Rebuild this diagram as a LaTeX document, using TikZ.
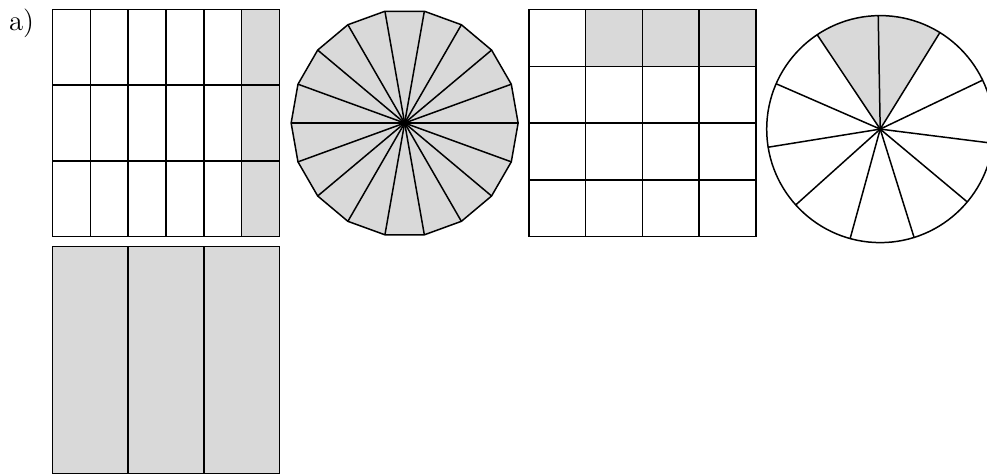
\documentclass[tikz,border=0pt]{standalone}
\usepackage{tikz}
\usetikzlibrary{positioning}

\begin{document}
\begin{tikzpicture}[
          cell/.style={draw, line width=0.75pt},
          shaded/.style={fill=gray!30},
          thinline/.style={draw, line width=0.75pt}
        ]
          \useasboundingbox (0,0) rectangle (17.392,8.335);

          % ラベル
          \node[font=\Large, anchor=base] (lbl) at (0.38,7.8) {a)};

          % 6x3 の正方形
          \begin{scope}[shift={(0.925,4.167)}]
            \fill[shaded] (10/3,0) rectangle (4,4);
            \foreach \i in {1,...,5} \draw[cell] (\i*2/3,0) -- (\i*2/3,4);
            \foreach \j in {1,2} \draw[cell] (0,\j*4/3) -- (4,\j*4/3);
            \draw[cell] (0,0) rectangle (4,4);
          \end{scope}

          % 十八角形
          \coordinate (poly) at (7.13,6.167);
          \begin{scope}[shift={(poly)}]
            \filldraw[cell, shaded] (0:2) \foreach \k in {1,...,17} { -- (\k*20:2) } -- cycle;
            \foreach \k in {0,...,17} \draw[thinline] (0,0) -- (\k*20:2);
          \end{scope}

          % 4x4 の正方形
          \begin{scope}[shift={(9.32,4.167)}]
            \fill[shaded] (1,3) rectangle (4,4);
            \foreach \i in {1,2,3} \draw[cell] (\i,0) -- (\i,4);
            \foreach \j in {1,2,3} \draw[cell] (0,\j) -- (4,\j);
            \draw[cell] (0,0) rectangle (4,4);
          \end{scope}

          % 円（11等分）
          \coordinate (pie) at (15.51,6.06);
          \begin{scope}[shift={(pie)}]
            \fill[shaded] (0,0) -- (58.27:2) arc[start angle=58.27, end angle=123.73, radius=2] -- cycle;
            \draw[thinline] (0,0) circle (2);
            \foreach \k in {0,...,10} \draw[thinline] (0,0) -- (91+\k*360/11:2);
          \end{scope}

          % 3等分の正方形
          \begin{scope}[shift={(0.925,-0.012)}]
            \fill[shaded] (0,0) rectangle (4,4);
            \foreach \i in {1,2} \draw[cell] (\i*4/3,0) -- (\i*4/3,4);
            \draw[cell] (0,0) rectangle (4,4);
          \end{scope}
        \end{tikzpicture}
\end{document}
